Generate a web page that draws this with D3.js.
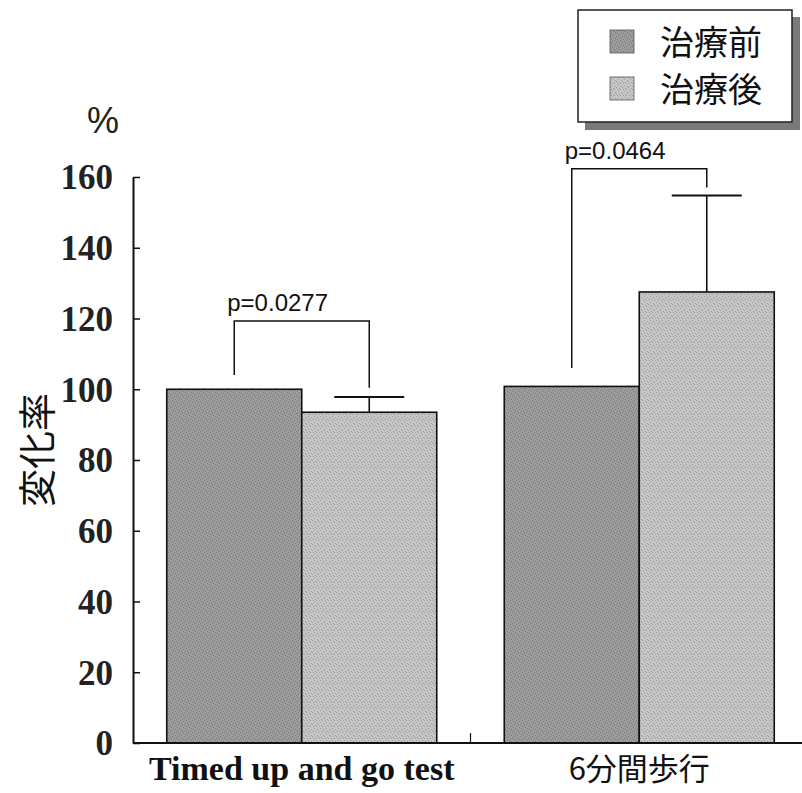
<!DOCTYPE html>
<html>
<head>
<meta charset="utf-8">
<script src="https://cdn.jsdelivr.net/npm/d3@7"></script>
<style>
  body { margin: 0; background: #fff; }
  svg { display: block; }
</style>
</head>
<body>
<figure id="chart" style="margin:0"></figure>
<script>
// data
const categories = ["Timed up and go test", "6分間歩行"];
const series = ["治療前", "治療後"];
const preValues = [100, 100.8];
const postValues = [93.5, 127.5];
const postErrTop = [97.8, 154.8];
const pLabels = ["p=0.0277", "p=0.0464"];
const bracketLeftTop = [104, 106];   // level (in %) where the left leg starts
const bracketRightEnd = [100.4, 157]; // level where the right leg ends
const bracketTop = [119.3, 162.3];
const yTicks = [0, 20, 40, 60, 80, 100, 120, 140, 160];

const width = 802, height = 793;
const fills = { "治療前": "#9d9d9d", "治療後": "#c6c6c6" };

const svg = d3.select("#chart").append("svg")
  .attr("width", width).attr("height", height);

// grain patterns to mimic the scanned screen tone
const defs = svg.append("defs");
function grain(id, base, dark, n) {
  const p = defs.append("pattern").attr("id", id)
    .attr("patternUnits", "userSpaceOnUse").attr("width", 6).attr("height", 6);
  p.append("rect").attr("width", 6).attr("height", 6).attr("fill", base);
  n.forEach(([x, y]) => p.append("rect").attr("x", x).attr("y", y)
    .attr("width", 1).attr("height", 1).attr("fill", dark));
}
grain("gPre", fills["治療前"], "#777", [[0,0],[3,1],[1,3],[4,4],[2,5],[5,2]]);
grain("gPost", fills["治療後"], "#999", [[1,0],[4,0],[2,2],[5,3],[0,4],[3,5]]);
const patt = { "治療前": "url(#gPre)", "治療後": "url(#gPost)" };

// scales
const x = d3.scaleBand().domain(categories).range([133, 808])
  .paddingInner(0.2).paddingOuter(0.1);
const xs = d3.scaleBand().domain(series).range([0, x.bandwidth()]);
const y = d3.scaleLinear().domain([0, 160]).range([743, 177]);

// bars
const rows = categories.map((c, i) => ({ c, i, vals: [preValues[i], postValues[i]] }));
const g = svg.append("g");
rows.forEach(r => {
  r.vals.forEach((v, j) => {
    g.append("rect")
      .attr("x", x(r.c) + xs(series[j]))
      .attr("y", y(v))
      .attr("width", xs.bandwidth())
      .attr("height", y(0) - y(v))
      .attr("fill", patt[series[j]])
      .attr("stroke", "#111").attr("stroke-width", 1.6);
  });
});

// error bars on post
rows.forEach(r => {
  const cx = x(r.c) + xs(series[1]) + xs.bandwidth() / 2;
  g.append("line").attr("x1", cx).attr("x2", cx)
    .attr("y1", y(postValues[r.i])).attr("y2", y(postErrTop[r.i]))
    .attr("stroke", "#111").attr("stroke-width", 1.6);
  g.append("line").attr("x1", cx - 35).attr("x2", cx + 35)
    .attr("y1", y(postErrTop[r.i])).attr("y2", y(postErrTop[r.i]))
    .attr("stroke", "#111").attr("stroke-width", 2);
});

// significance brackets
rows.forEach(r => {
  const x1 = x(r.c) + xs(series[0]) + xs.bandwidth() / 2;
  const x2 = x(r.c) + xs(series[1]) + xs.bandwidth() / 2;
  const yt = y(bracketTop[r.i]);
  g.append("path")
    .attr("d", `M${x1},${y(bracketLeftTop[r.i])}V${yt}H${x2}V${y(bracketRightEnd[r.i])}`)
    .attr("fill", "none").attr("stroke", "#111").attr("stroke-width", 1.5);
  g.append("text")
    .attr("x", x1 - 7).attr("y", yt - 10)
    .attr("font-family", "Liberation Sans, Arial, sans-serif")
    .attr("font-size", 24).attr("fill", "#111")
    .text(pLabels[r.i]);
});

// axes
const yAxis = svg.append("g").attr("transform", "translate(133,0)")
  .call(d3.axisLeft(y).tickValues(yTicks).tickSize(0).tickSizeOuter(0).tickPadding(20));
yAxis.select(".domain").attr("stroke", "#111").attr("stroke-width", 2);
yAxis.selectAll(".tick").append("line").attr("x2", 7).attr("stroke", "#111").attr("stroke-width", 1.5);
yAxis.selectAll(".tick text")
  .attr("font-family", "Liberation Serif, Times New Roman, serif")
  .attr("font-weight", "bold").attr("font-size", 35).attr("fill", "#222")
  .attr("dy", "0.34em");

const xAxisG = svg.append("g").attr("transform", "translate(0,743)");
xAxisG.append("line").attr("x1", 133).attr("x2", 802)
  .attr("stroke", "#111").attr("stroke-width", 2);
const sep = (x(categories[0]) + x.bandwidth() + x(categories[1])) / 2;
xAxisG.append("line").attr("x1", sep).attr("x2", sep).attr("y1", 0).attr("y2", -10)
  .attr("stroke", "#111").attr("stroke-width", 1.2);
xAxisG.selectAll("text.cat").data(categories).join("text")
  .attr("class", "cat")
  .attr("x", d => x(d) + x.bandwidth() / 2)
  .attr("y", 37)
  .attr("text-anchor", "middle")
  .attr("font-family", (d, i) => i === 0 ? "Liberation Serif, serif" : "Noto Sans CJK JP, sans-serif")
  .attr("font-weight", (d, i) => i === 0 ? "bold" : "normal")
  .attr("font-size", (d, i) => i === 0 ? 34 : 31)
  .attr("fill", "#111")
  .text(d => d);

// axis titles
svg.append("text").attr("x", 103).attr("y", 133).attr("text-anchor", "middle")
  .attr("font-family", "Liberation Sans, sans-serif").attr("font-size", 36).attr("fill", "#222")
  .text("%");
svg.append("text")
  .attr("transform", "translate(51,450) rotate(-90)")
  .attr("text-anchor", "middle")
  .attr("font-family", "Noto Sans CJK JP, serif").attr("font-size", 38).attr("fill", "#111")
  .text("変化率");

// legend
const lg = svg.append("g").attr("transform", "translate(578,10)");
lg.append("rect").attr("x", 7).attr("y", 7).attr("width", 215).attr("height", 113)
  .attr("fill", "#7a7a7a");
lg.append("rect").attr("x", 0).attr("y", 0).attr("width", 214).attr("height", 112)
  .attr("fill", "#fff").attr("stroke", "#222").attr("stroke-width", 1.5);
series.forEach((s, i) => {
  const row = lg.append("g").attr("transform", `translate(32,${20 + i * 47})`);
  row.append("rect").attr("width", 24).attr("height", 23)
    .attr("fill", patt[s]).attr("stroke", "#555").attr("stroke-width", 0.8);
  row.append("text").attr("x", 50).attr("y", 25)
    .attr("font-family", "Noto Sans CJK JP, sans-serif").attr("font-size", 34).attr("fill", "#111")
    .text(s);
});
</script>
</body>
</html>
